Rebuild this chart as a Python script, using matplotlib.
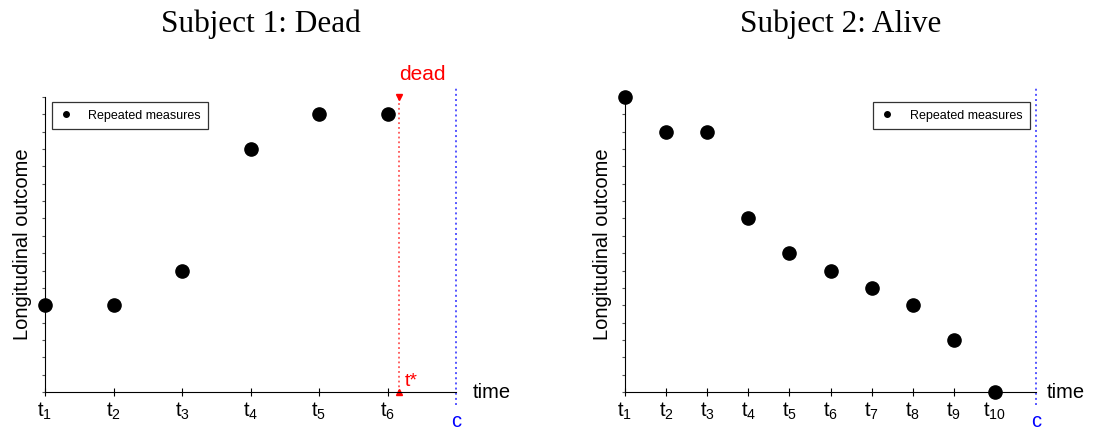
import numpy as np
import matplotlib.pyplot as plt

plt.rcParams['font.family'] = ['Liberation Sans', 'DejaVu Sans']
plt.rcParams['mathtext.fontset'] = 'custom'
plt.rcParams['mathtext.rm'] = 'Liberation Sans'

# Subject 1 (died at t*)
times_1 = [1, 2, 3, 4, 5, 6]
values_1 = [5, 5, 7, 14, 16, 16]
death_time = 6.17
censor_1 = 7

# Subject 2 (alive until censoring)
times_2 = [1, 2, 3, 4, 5, 6, 7, 8, 9, 10]
values_2 = [17, 15, 15, 10, 8, 7, 6, 5, 3, 0]
censor_2 = 11

y_max = 17
titles = ['Subject 1: Dead', 'Subject 2: Alive']


def setup_axes(ax, times, values, censor, legend_loc, legend_anchor):
    ax.plot(times, values, 'o', color='black', markersize=9.5, clip_on=False,
            zorder=5, label='Repeated measures')
    ax.set_xlim(1, censor)
    ax.set_ylim(0, y_max)
    ax.spines['top'].set_visible(False)
    ax.spines['right'].set_visible(False)
    ax.set_xticks(times)
    ax.set_xticklabels([r'$\mathregular{t_{%d}}$' % t for t in times], fontsize=14.5)
    ax.tick_params(axis='x', direction='inout', length=6, pad=3)
    ax.set_yticks(np.arange(0, y_max + 1))
    ax.set_yticklabels([])
    ax.tick_params(axis='y', direction='out', length=2, width=0.8, color='#555555')
    ax.set_ylabel('Longitudinal outcome', fontsize=14.5, labelpad=4)
    ax.text(censor + 0.25, 0, 'time', fontsize=14.5, va='center', ha='left',
            clip_on=False)
    # censoring time
    ax.plot([censor, censor], [-0.75, y_max + 0.6], ':', color='#5555ff',
            linewidth=1.4, clip_on=False)
    ax.annotate('c', xy=(censor, 0), xytext=(0, -28), textcoords='offset points',
                ha='center', va='bottom', color='blue', fontsize=14.5,
                annotation_clip=False)
    leg = ax.legend(loc=legend_loc, bbox_to_anchor=legend_anchor, borderaxespad=0,
                    fontsize=9, markerscale=0.42, frameon=True, fancybox=False,
                    edgecolor='black', borderpad=0.6, handlelength=1.0,
                    handletextpad=1.3)
    leg.get_frame().set_linewidth(0.9)


fig = plt.figure(figsize=(10.98, 4.32), dpi=100)
ax1 = fig.add_axes([45 / 1098, 40 / 432, 411 / 1098, 295 / 432])
ax2 = fig.add_axes([625 / 1098, 40 / 432, 411 / 1098, 295 / 432])

setup_axes(ax1, times_1, values_1, censor_1, 'upper left', (0.017, 0.983))
setup_axes(ax2, times_2, values_2, censor_2, 'upper right', (0.985, 0.983))

# time of death
ax1.plot([death_time, death_time], [0, y_max], ':', color='#ff5555', linewidth=1.3,
         clip_on=False)
ax1.plot([death_time], [y_max], 'v', color='red', markersize=4, clip_on=False)
ax1.plot([death_time], [0], '^', color='red', markersize=4, clip_on=False)
ax1.text(death_time, y_max + 0.75, 'dead', color='red', fontsize=15,
         ha='left', va='bottom')
ax1.text(death_time + 0.08, 0.1, 't*', color='red', fontsize=14,
         ha='left', va='bottom')

fig.text(261 / 1098, 1 - 32 / 432, titles[0], family='Liberation Serif',
         fontsize=22.5, ha='center', va='baseline')
fig.text(841 / 1098, 1 - 32 / 432, titles[1], family='Liberation Serif',
         fontsize=22.5, ha='center', va='baseline')

fig.savefig('out.png', dpi=100)
